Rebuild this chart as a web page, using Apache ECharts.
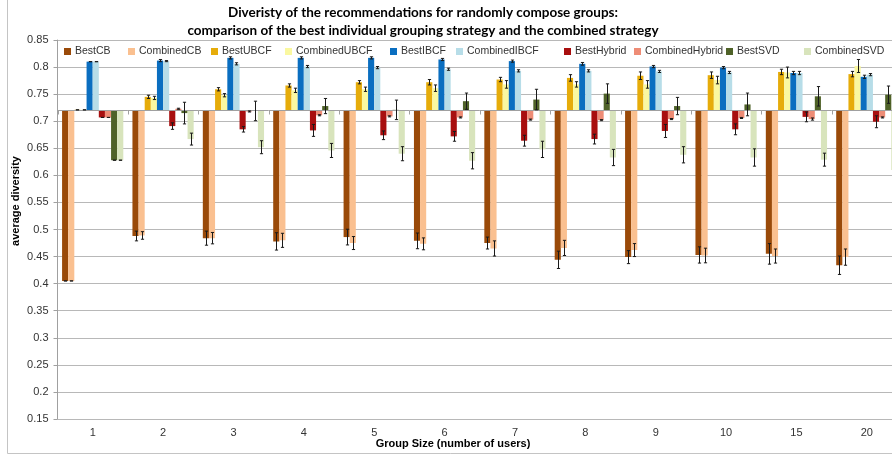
<!DOCTYPE html>
<html>
<head>
<meta charset="utf-8">
<script src="https://cdn.jsdelivr.net/npm/echarts@6/dist/echarts.min.js"></script>
<style>html,body{margin:0;padding:0;background:#fff;overflow:hidden}#c{width:892px;height:457px}</style>
</head>
<body>
<div id="c"></div>
<script>
// ---- data ----
const categories = ['1','2','3','4','5','6','7','8','9','10','15','20'];
const seriesNames = ['BestCB','CombinedCB','BestUBCF','CombinedUBCF','BestIBCF','CombinedIBCF','BestHybrid','CombinedHybrid','BestSVD','CombinedSVD'];
const baseline = 0.72;

const bestCB        = [0.405,0.488,0.484,0.478,0.486,0.479,0.475,0.444,0.449,0.453,0.455,0.434];
const bestCBErr     = [0,0.009,0.013,0.016,0.0145,0.0145,0.011,0.016,0.012,0.015,0.019,0.017];
const combCB        = [0.405,0.489,0.484,0.480,0.475,0.4735,0.465,0.466,0.462,0.452,0.451,0.449];
const combCBErr     = [0,0.007,0.0105,0.013,0.012,0.011,0.014,0.014,0.012,0.0135,0.013,0.015];
const bestUBCF      = [0.721,0.745,0.759,0.766,0.772,0.772,0.777,0.780,0.784,0.785,0.791,0.787];
const bestUBCFErr   = [0,0.003,0.003,0.003,0.003,0.005,0.004,0.006,0.007,0.006,0.005,0.005];
const combUBCF      = [0.721,0.743,0.748,0.757,0.759,0.761,0.768,0.768,0.768,0.776,0.790,0.802];
const combUBCFErr   = [0,0.003,0.003,0.004,0.004,0.006,0.007,0.005,0.007,0.007,0.010,0.012];
const bestIBCF      = [0.810,0.812,0.817,0.817,0.817,0.814,0.811,0.806,0.801,0.799,0.789,0.782];
const bestIBCFErr   = [0,0.002,0.002,0.002,0.002,0.002,0.002,0.0025,0.002,0.002,0.003,0.003];
const combIBCF      = [0.810,0.811,0.806,0.801,0.799,0.796,0.793,0.793,0.792,0.790,0.789,0.786];
const combIBCFErr   = [0,0.001,0.002,0.002,0.002,0.002,0.002,0.002,0.002,0.002,0.003,0.002];
const bestHybrid    = [0.707,0.691,0.685,0.683,0.674,0.672,0.664,0.667,0.682,0.685,0.708,0.699];
const bestHybridErr = [0,0.006,0.005,0.011,0.008,0.009,0.010,0.009,0.012,0.010,0.009,0.011];
const combHybrid    = [0.707,0.723,0.718,0.711,0.709,0.707,0.703,0.702,0.704,0.706,0.704,0.707];
const combHybridErr = [0,0.001,0.001,0.001,0.001,0.001,0.001,0.001,0.001,0.001,0.002,0.001];
const bestSVD       = [0.628,0.715,0.719,0.728,0.721,0.737,0.740,0.751,0.728,0.731,0.746,0.749];
const bestSVDErr    = [0,0.020,0.018,0.014,0.018,0.015,0.019,0.018,0.016,0.021,0.018,0.016];
const combSVD       = [0.628,0.667,0.652,0.646,0.640,0.627,0.648,0.633,0.638,0.633,0.629,0.610];
const combSVDErr    = [0,0.011,0.012,0.013,0.013,0.015,0.015,0.015,0.015,0.016,0.012,0.015];

const yTicks = {min:0.15, max:0.85, interval:0.05};

// ---- styling ----
const values = [bestCB,combCB,bestUBCF,combUBCF,bestIBCF,combIBCF,bestHybrid,combHybrid,bestSVD,combSVD];
const errors = [bestCBErr,combCBErr,bestUBCFErr,combUBCFErr,bestIBCFErr,combIBCFErr,bestHybridErr,combHybridErr,bestSVDErr,combSVDErr];
const colors = ['#9A4A09','#FAC090','#E6AC0A','#FAF8A0','#0A6EC0','#B7DDE8','#A80F0F','#EE8C76','#4F6228','#D8E4BC'];
const legendX = [64,128,211,285,390,456,564,634,726,804];
const CAT_GAP = 0.13;
const FONT = 'Liberation Sans, Arial, sans-serif';

const series = [];
values.forEach((vals, k) => {
  series.push({
    type:'bar', name:'_base'+k, stack:'g'+k, silent:true,
    barCategoryGap:(CAT_GAP*100)+'%', barGap:'0%',
    itemStyle:{color:'transparent'}, emphasis:{disabled:true},
    data: vals.map(v => Math.min(v, baseline))
  });
  series.push({
    type:'bar', name:seriesNames[k], stack:'g'+k,
    barCategoryGap:(CAT_GAP*100)+'%', barGap:'0%',
    itemStyle:{color:colors[k]}, emphasis:{disabled:true},
    data: vals.map(v => Math.abs(v - baseline))
  });
});

// baseline axis line at 0.72 with category-boundary ticks
series.push({
  type:'custom', name:'_axis', silent:true, z:3,
  data: categories.map((c,i) => [i, baseline]),
  renderItem: function(params, api){
    const i = api.value(0);
    const p = api.coord([i, api.value(1)]);
    const band = api.size([1,0])[0];
    const y = Math.round(p[1]) + 0.5;
    const xl = Math.round(p[0]-band/2)+0.5;
    const children = [
      {type:'line', shape:{x1:p[0]-band/2, y1:y, x2:p[0]+band/2, y2:y}, style:{stroke:'#A0A0A0', lineWidth:1}},
      {type:'line', shape:{x1:xl, y1:y, x2:xl, y2:y+4}, style:{stroke:'#A0A0A0', lineWidth:1}}
    ];
    return {type:'group', children};
  }
});

// error bars
values.forEach((vals, k) => {
  series.push({
    type:'custom', name:'_err'+k, silent:true, z:4,
    data: vals.map((v,i) => [i, v, errors[k][i]]),
    renderItem: function(params, api){
      const i = api.value(0), v = api.value(1), e = api.value(2);
      const band = api.size([1,0])[0];
      const groupW = band*(1-CAT_GAP);
      const bw = groupW/seriesNames.length;
      const cx = Math.round(api.coord([i, v])[0] - groupW/2 + bw*(k+0.5)) + 0.5;
      const yh = api.coord([i, v+e])[1];
      const yl = api.coord([i, v-e])[1];
      const st = {stroke:'#1A1A1A', lineWidth:1};
      return {type:'group', children:[
        {type:'line', shape:{x1:cx, y1:yh, x2:cx, y2:yl}, style:st},
        {type:'line', shape:{x1:cx-1.6, y1:yh, x2:cx+1.6, y2:yh}, style:st},
        {type:'line', shape:{x1:cx-1.6, y1:yl, x2:cx+1.6, y2:yl}, style:st}
      ]};
    }
  });
});

const option = {
  animation:false,
  backgroundColor:'#fff',
  grid:{left:57.5, right:-10, top:40, bottom:38, containLabel:false, outerBoundsMode:'none'},
  xAxis:{
    type:'category', data:categories,
    axisLine:{show:false}, axisTick:{show:false},
    axisLabel:{fontSize:11, color:'#333', margin:8, fontFamily:FONT},
    splitLine:{show:false}
  },
  yAxis:{
    type:'value', min:yTicks.min, max:yTicks.max, interval:yTicks.interval,
    axisLine:{show:true, lineStyle:{color:'#A0A0A0'}},
    axisTick:{show:true, length:4, lineStyle:{color:'#A0A0A0'}},
    axisLabel:{fontSize:11, color:'#333', margin:9, fontFamily:FONT},
    splitLine:{show:true, lineStyle:{color:'#B8B8B8', width:1.2}}
  },
  legend: seriesNames.map((n,k) => ({
    data:[n], left:legendX[k], top:46, padding:0, itemGap:0,
    itemWidth:7, itemHeight:7, icon:'rect', selectedMode:false,
    textStyle:{fontSize:10.5, color:'#333', fontFamily:FONT, padding:[0,0,0,-1]}
  })),
  graphic:[
    {type:'rect', shape:{x:7.5, y:-2, width:900, height:455.5}, style:{fill:'none', stroke:'#C4C4C4', lineWidth:1}, silent:true, z:-1},
    {type:'text', x:423, y:4, style:{text:'Diveristy of the recommendations for randomly compose groups:\ncomparison of the best individual grouping strategy and the combined strategy', align:'center', verticalAlign:'top', font:'bold 13.5px Lato, sans-serif', lineHeight:18, fill:'#000'}},
    {type:'text', x:16, y:201, rotation:Math.PI/2, style:{text:'average diversity', align:'center', verticalAlign:'middle', font:'bold 11px Liberation Sans, Arial, sans-serif', fill:'#000'}},
    {type:'text', x:453, y:444, style:{text:'Group Size (number of users)', align:'center', verticalAlign:'middle', font:'bold 11px Liberation Sans, Arial, sans-serif', fill:'#000'}}
  ],
  series
};
const chart = echarts.init(document.getElementById('c'), null, {renderer:'canvas'});
chart.setOption(option);
</script>
</body>
</html>
